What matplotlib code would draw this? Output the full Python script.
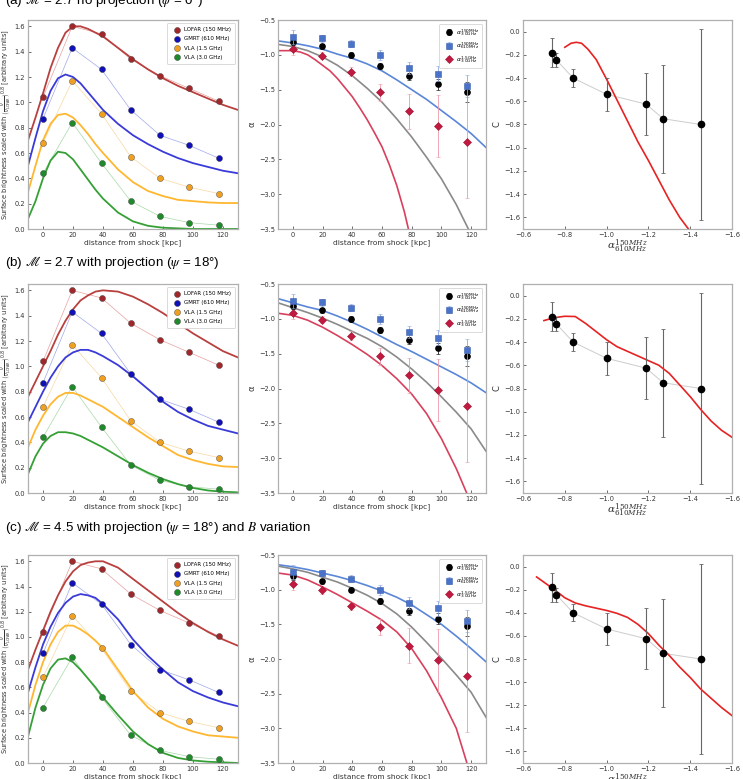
import numpy as np
import matplotlib
matplotlib.use('Agg')
import matplotlib.pyplot as plt

# ---------------- data ----------------
dist = [0, 19.5, 39, 58.5, 78, 97.5, 117]
sb_lofar = [1.04, 1.60, 1.54, 1.34, 1.21, 1.11, 1.01]
sb_gmrt = [0.87, 1.43, 1.26, 0.94, 0.74, 0.66, 0.56]
sb_vla15 = [0.68, 1.17, 0.91, 0.57, 0.40, 0.33, 0.28]
sb_vla30 = [0.44, 0.84, 0.52, 0.22, 0.10, 0.05, 0.03]
sb_labels = ['LOFAR (150 MHz)', 'GMRT (610 MHz)', 'VLA (1.5 GHz)', 'VLA (3.0 GHz)']

alpha_150_3000 = [-0.81, -0.88, -1.00, -1.16, -1.31, -1.42, -1.53]
alpha_150_3000_err = [0.05, 0.04, 0.04, 0.04, 0.05, 0.08, 0.14]
alpha_150_610 = [-0.74, -0.76, -0.84, -1.00, -1.19, -1.27, -1.45]
alpha_150_610_err = [0.10, 0.05, 0.05, 0.07, 0.09, 0.11, 0.16]
alpha_1500_3000 = [-0.92, -1.01, -1.24, -1.54, -1.81, -2.02, -2.25]
alpha_1500_3000_err = [0.08, 0.05, 0.06, 0.12, 0.25, 0.45, 0.80]
alpha_labels = [r'$\alpha^{\rm 150MHz}_{\rm 3.0GHz}$', r'$\alpha^{\rm 150MHz}_{\rm 610MHz}$',
                r'$\alpha^{\rm 1.5GHz}_{\rm 3.0GHz}$']

curv_C = [-0.18, -0.245, -0.40, -0.54, -0.625, -0.75, -0.80]
curv_C_err = [0.125, 0.06, 0.075, 0.14, 0.265, 0.465, 0.825]

# model brightness profiles (sampled from the figure)
model_dist = [-10, -5, 0, 5, 10, 15, 20, 25, 30, 35, 40, 50, 60, 70, 80, 90, 100, 110, 120, 130]
model_a_lofar = [0.70, 0.88, 1.07, 1.27, 1.43, 1.55, 1.60, 1.60, 1.58, 1.55, 1.52, 1.43, 1.34, 1.26, 1.19, 1.13, 1.08, 1.03, 0.98, 0.94]
model_a_gmrt = [0.50, 0.72, 0.93, 1.09, 1.19, 1.22, 1.20, 1.15, 1.08, 1.01, 0.94, 0.83, 0.74, 0.67, 0.61, 0.56, 0.52, 0.49, 0.46, 0.44]
model_a_vla15 = [0.29, 0.50, 0.70, 0.83, 0.90, 0.91, 0.88, 0.82, 0.75, 0.67, 0.60, 0.47, 0.37, 0.30, 0.26, 0.23, 0.22, 0.21, 0.205, 0.205]
model_a_vla30 = [0.08, 0.22, 0.40, 0.54, 0.61, 0.60, 0.55, 0.47, 0.39, 0.31, 0.24, 0.13, 0.06, 0.025, 0.01, 0.005, 0.0, 0.0, 0.0, 0.0]

model_b_lofar = [0.76, 0.88, 1.00, 1.12, 1.25, 1.36, 1.45, 1.52, 1.56, 1.59, 1.60, 1.59, 1.55, 1.49, 1.42, 1.34, 1.26, 1.19, 1.12, 1.07]
model_b_gmrt = [0.56, 0.68, 0.80, 0.91, 1.00, 1.07, 1.11, 1.13, 1.13, 1.11, 1.08, 1.01, 0.92, 0.82, 0.72, 0.64, 0.58, 0.53, 0.50, 0.47]
model_b_vla15 = [0.36, 0.50, 0.61, 0.70, 0.76, 0.79, 0.79, 0.77, 0.74, 0.71, 0.68, 0.60, 0.52, 0.44, 0.37, 0.30, 0.26, 0.23, 0.21, 0.205]
model_b_vla30 = [0.15, 0.29, 0.39, 0.45, 0.48, 0.48, 0.47, 0.45, 0.42, 0.39, 0.36, 0.29, 0.22, 0.16, 0.11, 0.07, 0.04, 0.02, 0.01, 0.005]

model_c_lofar = [0.74, 0.90, 1.05, 1.20, 1.33, 1.44, 1.52, 1.57, 1.59, 1.60, 1.60, 1.55, 1.46, 1.37, 1.28, 1.19, 1.11, 1.04, 0.98, 0.93]
model_c_gmrt = [0.56, 0.76, 0.94, 1.08, 1.19, 1.27, 1.32, 1.34, 1.33, 1.31, 1.26, 1.14, 0.98, 0.85, 0.74, 0.64, 0.57, 0.52, 0.48, 0.45]
model_c_vla15 = [0.40, 0.62, 0.80, 0.94, 1.04, 1.09, 1.09, 1.06, 1.02, 0.97, 0.91, 0.74, 0.57, 0.44, 0.35, 0.29, 0.25, 0.22, 0.21, 0.20]
model_c_vla30 = [0.21, 0.44, 0.62, 0.75, 0.82, 0.83, 0.80, 0.74, 0.67, 0.60, 0.52, 0.38, 0.25, 0.15, 0.08, 0.04, 0.02, 0.01, 0.005, 0.0]

# model spectral index profiles
alpha_dist = [-10, 0, 10, 20, 30, 40, 50, 60, 70, 80, 90, 100, 110, 120, 130]
model_a_blue = [-0.80, -0.83, -0.87, -0.92, -0.99, -1.05, -1.13, -1.23, -1.36, -1.50, -1.64, -1.80, -1.96, -2.13, -2.33]
model_a_gray = [-0.85, -0.88, -0.94, -1.03, -1.15, -1.30, -1.48, -1.68, -1.92, -2.18, -2.47, -2.78, -3.15, -3.58, -4.00]
red_a_dist = [-10, -5, 0, 5, 10, 15, 20, 25, 30, 35, 40, 45, 50, 55, 60, 65, 70, 75, 80]
model_a_red = [-0.94, -0.94, -0.94, -0.96, -1.00, -1.07, -1.15, -1.23, -1.34, -1.47, -1.60, -1.76, -1.93, -2.12, -2.32, -2.58, -2.88, -3.25, -3.70]

model_b_blue = [-0.71, -0.77, -0.83, -0.88, -0.96, -1.05, -1.15, -1.26, -1.37, -1.47, -1.58, -1.69, -1.80, -1.92, -2.06]
model_b_gray = [-0.77, -0.84, -0.91, -0.99, -1.08, -1.18, -1.28, -1.40, -1.55, -1.72, -1.91, -2.12, -2.34, -2.58, -2.90]
red_bc_dist = [-10, 0, 10, 20, 30, 40, 50, 60, 70, 80, 90, 100, 110, 120]
model_b_red = [-0.92, -0.95, -1.02, -1.12, -1.24, -1.37, -1.51, -1.67, -1.86, -2.08, -2.36, -2.72, -3.15, -3.65]

model_c_blue = [-0.64, -0.67, -0.71, -0.76, -0.81, -0.87, -0.94, -1.02, -1.11, -1.22, -1.36, -1.50, -1.67, -1.85, -2.04]
model_c_gray = [-0.66, -0.70, -0.75, -0.82, -0.89, -0.98, -1.08, -1.20, -1.35, -1.54, -1.76, -1.99, -2.23, -2.48, -2.84]
model_c_red = [-0.76, -0.79, -0.86, -0.96, -1.07, -1.19, -1.31, -1.44, -1.61, -1.85, -2.17, -2.56, -3.00, -3.70]

# model curvature tracks
cc_a_x = [-0.80, -0.83, -0.855, -0.88, -0.91, -0.95, -1.00, -1.05, -1.10, -1.15, -1.20, -1.25, -1.30, -1.35, -1.40]
cc_a_y = [-0.135, -0.10, -0.092, -0.10, -0.15, -0.24, -0.41, -0.59, -0.77, -0.95, -1.11, -1.28, -1.45, -1.60, -1.72]
cc_b_x = [-0.70, -0.75, -0.80, -0.85, -0.90, -0.95, -1.00, -1.05, -1.10, -1.15, -1.20, -1.25, -1.30, -1.35, -1.40, -1.45, -1.50, -1.55, -1.60]
cc_b_y = [-0.215, -0.19, -0.178, -0.18, -0.24, -0.31, -0.38, -0.44, -0.48, -0.52, -0.56, -0.60, -0.67, -0.77, -0.87, -0.98, -1.08, -1.16, -1.22]
cc_c_x = [-0.665, -0.70, -0.75, -0.80, -0.85, -0.90, -0.95, -1.00, -1.05, -1.10, -1.15, -1.20, -1.25, -1.30, -1.35, -1.40, -1.45, -1.50, -1.55, -1.60]
cc_c_y = [-0.09, -0.135, -0.20, -0.27, -0.315, -0.34, -0.36, -0.38, -0.405, -0.44, -0.50, -0.58, -0.68, -0.77, -0.87, -0.96, -1.06, -1.14, -1.22, -1.29]

titles = [r'(a) $\mathscr{M}$ = 2.7 no projection ($\psi$ = 0°)',
          r'(b) $\mathscr{M}$ = 2.7 with projection ($\psi$ = 18°)',
          r'(c) $\mathscr{M}$ = 4.5 with projection ($\psi$ = 18°) and $B$ variation']

# ---------------- style ----------------
pt_colors = ['#a0282a', '#1010b8', '#f0a020', '#1f8a2a']
line_colors = ['#b8403f', '#3a3ad8', '#ffb730', '#35a035']
thin_colors = ['#e8a0a0', '#a0a8e8', '#f8d8a0', '#a8d8a8']

W, H = 743, 779
fig = plt.figure(figsize=(W / 100, H / 100), dpi=100)


def add_ax(x0, x1, ytop, ybot):
    ax = fig.add_axes([x0 / W, 1 - ybot / H, (x1 - x0) / W, (ybot - ytop) / H])
    for s in ax.spines.values():
        s.set_color('#b0b0b0')
        s.set_linewidth(0.9)
    ax.tick_params(labelsize=4.8, colors='#333333', direction='in', length=2, width=0.5, pad=2)
    return ax


rows = [(20, 229), (284, 493), (555, 763)]
cols = [(28, 238), (278, 486), (523, 732)]
title_base = [4, 266, 531]

sb_series = [sb_lofar, sb_gmrt, sb_vla15, sb_vla30]
models_sb = [
    [model_a_lofar, model_a_gmrt, model_a_vla15, model_a_vla30],
    [model_b_lofar, model_b_gmrt, model_b_vla15, model_b_vla30],
    [model_c_lofar, model_c_gmrt, model_c_vla15, model_c_vla30],
]
models_alpha = [
    (model_a_blue, model_a_gray, red_a_dist, model_a_red),
    (model_b_blue, model_b_gray, red_bc_dist, model_b_red),
    (model_c_blue, model_c_gray, red_bc_dist, model_c_red),
]
models_cc = [(cc_a_x, cc_a_y), (cc_b_x, cc_b_y), (cc_c_x, cc_c_y)]

for r, (yt, yb) in enumerate(rows):
    fig.text(5 / W, 1 - title_base[r] / H, titles[r], fontsize=9.6, family='Liberation Sans',
             math_fontfamily='stix', va='baseline', ha='left')

    # ---- left: surface brightness ----
    ax = add_ax(cols[0][0], cols[0][1], yt, yb)
    for i, vals in enumerate(sb_series):
        ax.plot(dist, vals, '-', color=thin_colors[i], lw=0.5, zorder=1)
        ax.plot(model_dist, models_sb[r][i], '-', color=line_colors[i], lw=1.3, zorder=2)
        ax.scatter(dist, vals, s=19, color=pt_colors[i], edgecolors='#444444', linewidths=0.3,
                   zorder=3, label=sb_labels[i])
    ax.set_xlim(-10, 130)
    ax.set_ylim(0, 1.65)
    ax.set_xticks([0, 20, 40, 60, 80, 100, 120])
    ax.set_yticks(np.arange(0, 1.61, 0.2))
    ax.set_xlabel('distance from shock [kpc]', fontsize=5.4, color='#333333', labelpad=1)
    ax.set_ylabel(r'Surface brightness scaled with $\left(\frac{\nu}{\nu_{\rm LOFAR}}\right)^{0.8}$ [arbitrary units]',
                  fontsize=4.9, color='#333333', labelpad=0.5)
    leg = ax.legend(loc='upper right', fontsize=4.0, frameon=True, framealpha=1, edgecolor='#cccccc',
                    handletextpad=0.3, borderpad=0.7, labelspacing=0.75, scatterpoints=1,
                    borderaxespad=0.6)
    leg.get_frame().set_linewidth(0.5)

    # ---- middle: spectral index ----
    ax = add_ax(cols[1][0], cols[1][1], yt, yb)
    mblue, mgray, rdist, mred = models_alpha[r]
    ax.plot(alpha_dist, mgray, '-', color='#8a8a8a', lw=1.2, zorder=1)
    ax.plot(alpha_dist, mblue, '-', color='#5a86d8', lw=1.2, zorder=1)
    ax.plot(rdist, mred, '-', color='#d8405c', lw=1.2, zorder=1)
    ax.errorbar(dist, alpha_150_3000, yerr=alpha_150_3000_err, fmt='o', color='black', ms=3.8,
                ecolor='#222222', elinewidth=0.6, capsize=1.2, capthick=0.5, zorder=3, label=alpha_labels[0])
    ax.errorbar(dist, alpha_150_610, yerr=alpha_150_610_err, fmt='s', color='#4a72c8', mec='#3b5fae',
                mew=0.4, ms=4.2, ecolor='#8aa6e0', elinewidth=0.6, capsize=1.2, capthick=0.5, zorder=4,
                label=alpha_labels[1])
    ax.errorbar(dist, alpha_1500_3000, yerr=alpha_1500_3000_err, fmt='D', color='#c01a40', mec='#a01030',
                mew=0.4, ms=4.0, ecolor='#eb9aa8', elinewidth=0.6, capsize=1.2, capthick=0.5, zorder=3,
                label=alpha_labels[2])
    ax.set_xlim(-10, 130)
    ax.set_ylim(-3.5, -0.5)
    ax.set_xticks([0, 20, 40, 60, 80, 100, 120])
    ax.set_yticks([-0.5, -1.0, -1.5, -2.0, -2.5, -3.0, -3.5])
    ax.set_xlabel('distance from shock [kpc]', fontsize=5.4, color='#333333', labelpad=1)
    ax.set_ylabel('α', fontsize=6, color='#333333', labelpad=2)
    leg = ax.legend(loc='upper right', fontsize=4.4, frameon=True, framealpha=1, edgecolor='#cccccc',
                    handletextpad=0.2, borderpad=0.5, labelspacing=0.5, borderaxespad=0.6)
    leg.get_frame().set_linewidth(0.5)

    # ---- right: curvature ----
    ax = add_ax(cols[2][0], cols[2][1], yt, yb)
    ax.plot(alpha_150_610, curv_C, '-', color='#cccccc', lw=0.7, zorder=1)
    ax.errorbar(alpha_150_610, curv_C, yerr=curv_C_err, fmt='o', color='black', ms=4.5,
                ecolor='#666666', elinewidth=0.8, capsize=1.5, capthick=0.6, zorder=3)
    cx, cy = models_cc[r]
    ax.plot(cx, cy, '-', color='#e62222', lw=1.2, zorder=2)
    ax.set_xlim(-0.6, -1.6)
    ax.set_ylim(-1.7, 0.1)
    ax.set_xticks([-0.6, -0.8, -1.0, -1.2, -1.4, -1.6])
    ax.set_yticks(np.arange(0.0, -1.61, -0.2))
    ax.set_xlabel(r'$\alpha^{150MHz}_{610MHz}$', fontsize=7.5, color='#333333', labelpad=0,
                  math_fontfamily='dejavuserif')
    ax.set_ylabel('C', fontsize=6, color='#333333', labelpad=2)

fig.savefig('out.png', dpi=100)
